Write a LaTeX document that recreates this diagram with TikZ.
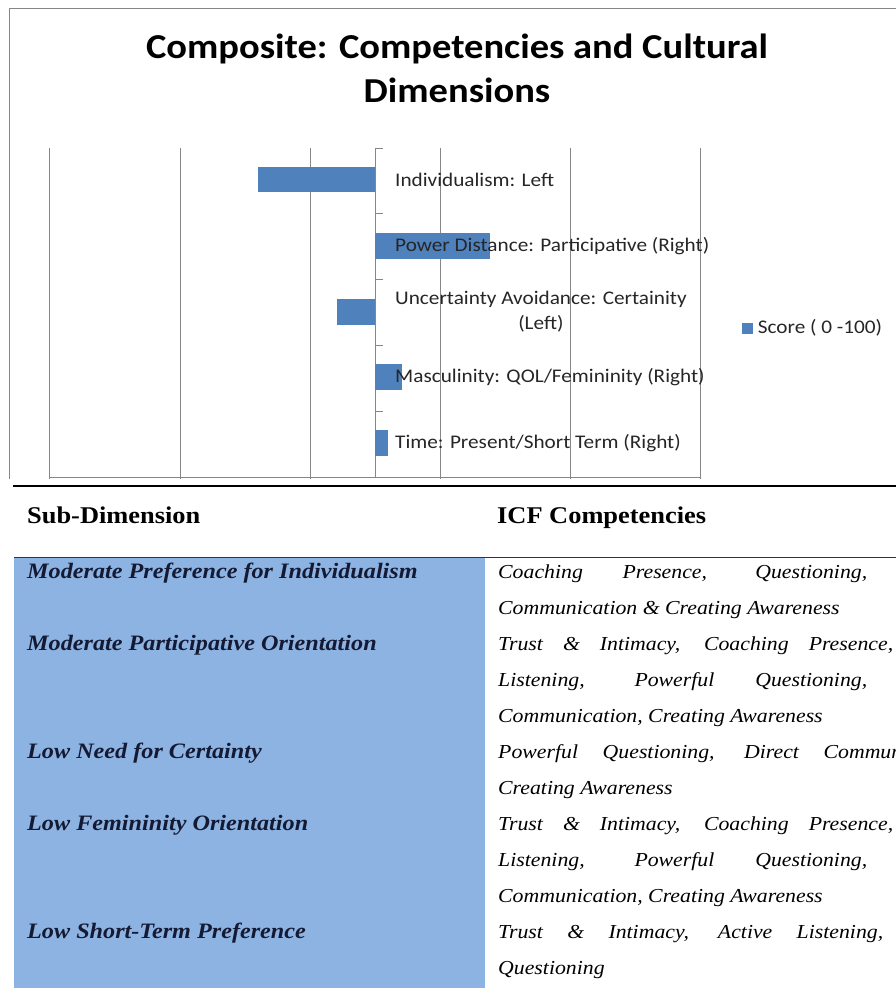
\documentclass[tikz,border=0pt]{standalone}
\usepackage{fontspec}
\setmainfont{Liberation Serif}[FakeStretch=1.1]
\newfontfamily\chartfont{Carlito}[FakeStretch=1.1]
\usepackage{tikz}
\usetikzlibrary{positioning}

\definecolor{barblue}{RGB}{79,129,189}
\definecolor{cellblue}{RGB}{141,179,226}
\definecolor{gridgray}{RGB}{134,134,134}
\definecolor{dimnavy}{RGB}{20,26,52}

\tikzset{
  gridline/.style={draw=gridgray, line width=0.8pt},
  databar/.style={fill=barblue, draw=none},
  catlabel/.style={font=\chartfont\fontsize{19.3}{25}\selectfont, text=black!85, inner sep=0pt, anchor=west},
  titleline/.style={font=\chartfont\bfseries\fontsize{35}{44}\selectfont, inner sep=0pt, anchor=base},
  headcell/.style={font=\bfseries\fontsize{24}{28}\selectfont, inner sep=0pt, anchor=base west},
  dimcell/.style={font=\bfseries\itshape\fontsize{22}{26}\selectfont, text=dimnavy, inner sep=0pt, anchor=base west},
  compcell/.style={font=\itshape\fontsize{19.8}{24}\selectfont, text=black, inner sep=0pt, anchor=base west}
}

\begin{document}
\begin{tikzpicture}[x=1pt,y=-1pt]

\clip (0,0) rectangle (896,988);

% draw the chart

%% frame
\draw[gridline] (9,479) -- (9,8) -- (896,8);

%% title
\node[titleline] (title1) at (457,58) {Composite: Competencies and Cultural};
\node[titleline] (title2) at (457,102) {Dimensions};

%% gridlines and value axis
\foreach \x in {49,180,310,440,570,700}
    \draw[gridline] (\x,148) -- (\x,479);
\draw[gridline] (49,477) -- (700,477);

%% category axis with ticks
\draw[gridline] (375,148) -- (375,477);
\foreach \y in {148,213.8,279.6,345.4,411.2}
    \draw[gridline] (375,\y) -- (383,\y);

%% bars (score 0 - 100)
\fill[databar] (258,167) rectangle (375,192);
\fill[databar] (375,233) rectangle (490,259);
\fill[databar] (337,299) rectangle (375,325);
\fill[databar] (375,364) rectangle (402,390);
\fill[databar] (375,430) rectangle (388,456);

%% category labels
\node[catlabel] (indiv) at (395,180) {Individualism: Left};
\node[catlabel] (power) at (395,246) {Power Distance: Participative (Right)};
\node[catlabel, align=center] (uncert) at (395,312) {Uncertainty Avoidance: Certainity\\(Left)};
\node[catlabel] (mascu) at (395,377) {Masculinity: QOL/Femininity (Right)};
\node[catlabel] (time) at (395,443) {Time: Present/Short Term (Right)};

%% legend
\node[fill=barblue, minimum size=11pt, inner sep=0pt] (legkey) at (747,328) {};
\node[catlabel, right=5pt of legkey] (legtext) {Score ( 0 -100)};

% draw the table

%% header
\draw[line width=2pt] (13,486) -- (896,486);
\node[headcell] (subdim) at (27,523) {Sub-Dimension};
\node[headcell] (icf) at (497,523) {ICF Competencies};

%% sub-dimension column
\fill[cellblue] (14,557) rectangle (485,988);
\draw[black!80, line width=1pt] (14,557) -- (896,557);

\node[dimcell] (dim1) at (27,578) {Moderate Preference for Individualism};
\node[dimcell] (dim2) at (27,650) {Moderate Participative Orientation};
\node[dimcell] (dim3) at (27,758) {Low Need for Certainty};
\node[dimcell] (dim4) at (27,830) {Low Femininity Orientation};
\node[dimcell] (dim5) at (27,938) {Low Short-Term Preference};

%% competencies column (the sixth line runs past the page edge)
\node[compcell] (comp1) at (498,578) {\makebox[369pt][s]{Coaching Presence, Questioning,}};
\node[compcell] (comp2) at (498,614) {Communication \& Creating Awareness};
\node[compcell] (comp3) at (498,650) {\makebox[395pt][s]{Trust \& Intimacy, Coaching Presence,}};
\node[compcell] (comp4) at (498,686) {\makebox[369pt][s]{Listening, Powerful Questioning,}};
\node[compcell] (comp5) at (498,722) {Communication, Creating Awareness};
\node[compcell] (comp6) at (498,758) {\makebox[470pt][s]{Powerful Questioning, Direct Communication,}};
\node[compcell] (comp7) at (498,794) {Creating Awareness};
\node[compcell] (comp8) at (498,830) {\makebox[395pt][s]{Trust \& Intimacy, Coaching Presence,}};
\node[compcell] (comp9) at (498,866) {\makebox[369pt][s]{Listening, Powerful Questioning,}};
\node[compcell] (comp10) at (498,902) {Communication, Creating Awareness};
\node[compcell] (comp11) at (498,938) {\makebox[385pt][s]{Trust \& Intimacy, Active Listening,}};
\node[compcell] (comp12) at (498,974) {Questioning};

\end{tikzpicture}
\end{document}
